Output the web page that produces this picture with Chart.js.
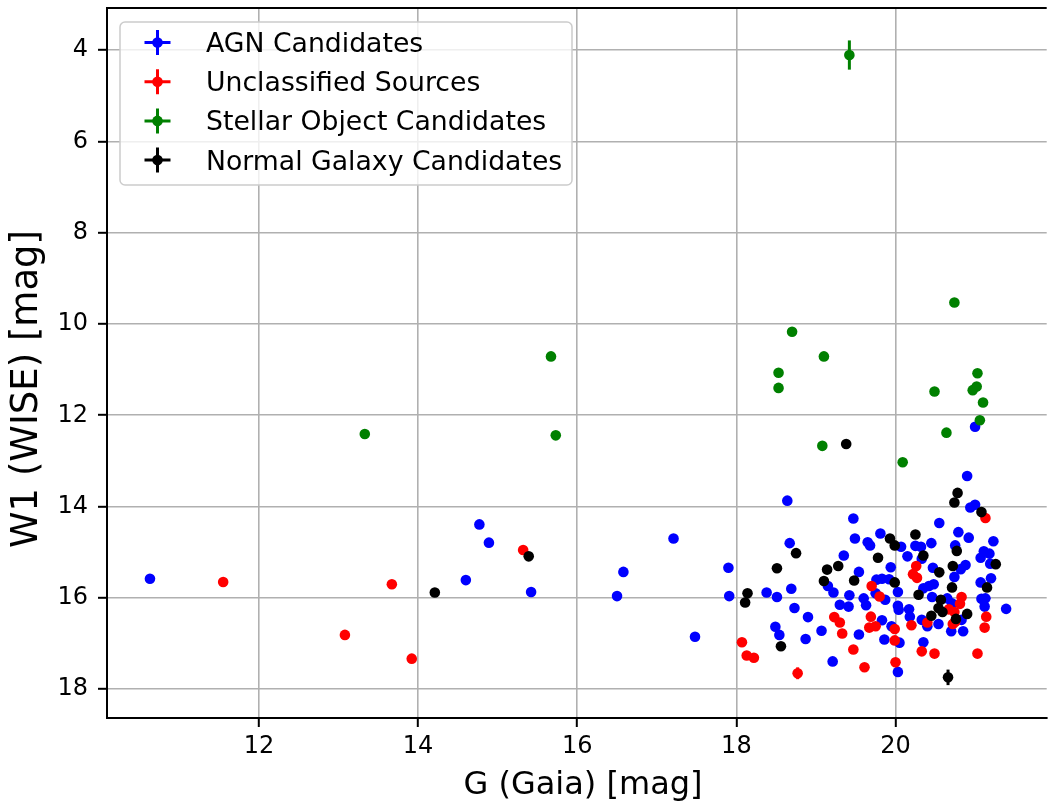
<!DOCTYPE html>
<html>
<head>
<meta charset="utf-8">
<title>G (Gaia) vs W1 (WISE)</title>
<script src="https://cdn.jsdelivr.net/npm/chart.js@4.4.0/dist/chart.umd.min.js"></script>
<style>
    html, body { margin: 0; padding: 0; background: #fff; }
    #wrap { width: 1052px; height: 808px; position: relative; }
</style>
</head>
<body>
<div id="wrap"><canvas id="chart"></canvas></div>
<script>
// ── Data ───────────────────────────────────────────────
// each point: [G (Gaia) mag, W1 (WISE) mag, optional W1 error]

const seriesNames = ['AGN Candidates', 'Unclassified Sources', 'Stellar Object Candidates', 'Normal Galaxy Candidates'];
const seriesColors = ['#0000ff', '#ff0000', '#008000', '#000000'];

const agnPoints = [
    [10.63, 15.58], [14.60, 15.61], [14.77, 14.39], [14.89, 14.79], [15.42, 15.87], [16.50, 15.96],
    [16.58, 15.43], [17.21, 14.70], [17.48, 16.85], [17.90, 15.34], [17.91, 15.96], [18.38, 15.88],
    [18.51, 15.98], [18.49, 16.63], [18.54, 16.81], [18.64, 13.87], [18.67, 14.80], [18.69, 15.80],
    [18.73, 16.22], [18.90, 16.42], [18.87, 16.90], [19.07, 16.72], [19.15, 15.74], [19.22, 15.88],
    [19.21, 17.39], [19.30, 16.15], [19.35, 15.07], [19.41, 16.19], [19.42, 15.94], [19.47, 14.26],
    [19.49, 14.70], [19.54, 15.43], [19.54, 16.80], [19.60, 16.01], [19.63, 16.16], [19.65, 14.78],
    [19.68, 14.85], [19.75, 15.90], [19.76, 15.60], [19.81, 14.59], [19.83, 15.58], [19.83, 16.49],
    [19.86, 16.91], [19.87, 16.04], [19.92, 15.59], [19.94, 15.33], [19.95, 16.62], [20.03, 15.87],
    [20.03, 16.17], [20.04, 16.26], [20.05, 16.98], [20.03, 17.62], [20.07, 14.88], [20.15, 15.09],
    [20.17, 16.25], [20.18, 16.41], [20.25, 14.86], [20.32, 14.88], [20.33, 15.14], [20.33, 16.48],
    [20.35, 16.97], [20.35, 15.79], [20.40, 16.62], [20.42, 15.74], [20.45, 14.80], [20.46, 15.98],
    [20.47, 15.34], [20.48, 15.70], [20.54, 16.57], [20.55, 14.36], [20.65, 16.01], [20.70, 16.73],
    [20.71, 16.12], [20.74, 15.54], [20.75, 14.85], [20.79, 14.56], [20.82, 15.37], [20.83, 16.48],
    [20.85, 16.73], [20.88, 15.28], [20.90, 13.33], [20.92, 14.68], [20.94, 14.02], [21.00, 13.96],
    [21.00, 12.25], [21.07, 15.12], [21.07, 15.66], [21.08, 16.02], [21.11, 14.98], [21.12, 16.19],
    [21.13, 16.01], [21.18, 15.03], [21.19, 15.25], [21.20, 15.57], [21.23, 14.76], [21.39, 16.24]
];

const unclassifiedPoints = [
    [11.55, 15.65], [13.08, 16.81], [13.67, 15.70], [13.92, 17.33], [15.32, 14.95], [18.07, 16.97],
    [18.13, 17.26], [18.22, 17.31], [18.77, 17.65, 0.13], [19.23, 16.42], [19.30, 16.54], [19.33, 16.78],
    [19.47, 17.13], [19.61, 17.52], [19.67, 16.65], [19.69, 16.41], [19.70, 15.74], [19.75, 16.62],
    [19.80, 15.97], [19.99, 16.68], [19.99, 16.93], [20.00, 17.41], [20.20, 16.60], [20.22, 15.48],
    [20.26, 15.30], [20.27, 15.56], [20.33, 17.17], [20.40, 16.54], [20.49, 17.22], [20.67, 16.25],
    [20.72, 16.57], [20.75, 16.52], [20.74, 16.31], [20.81, 16.13], [20.83, 15.98], [21.03, 17.22],
    [21.12, 16.65], [21.13, 14.25], [21.14, 16.41]
];

const stellarPoints = [
    [13.33, 12.41], [15.67, 10.71], [15.73, 12.44], [18.53, 11.07], [18.53, 11.40], [18.70, 10.17],
    [19.10, 10.71], [19.08, 12.67], [19.42, 4.11, 0.32], [20.09, 13.03], [20.49, 11.48], [20.64, 12.38],
    [20.74, 9.53], [20.97, 11.45], [21.02, 11.37], [21.03, 11.08], [21.10, 11.72], [21.06, 12.11]
];

const normalPoints = [
    [14.21, 15.88], [15.39, 15.09], [18.11, 16.10], [18.14, 15.90], [18.51, 15.35], [18.56, 17.06],
    [18.75, 15.02], [19.10, 15.63], [19.14, 15.38], [19.28, 15.30], [19.38, 12.63], [19.48, 15.62],
    [19.78, 15.12], [19.93, 14.70], [19.99, 14.85], [19.99, 15.66], [20.25, 14.61], [20.29, 15.93],
    [20.35, 15.07], [20.45, 16.39], [20.54, 16.22], [20.55, 15.44], [20.57, 16.04], [20.59, 16.31],
    [20.66, 17.74, 0.17], [20.71, 15.77], [20.72, 15.30], [20.74, 13.91], [20.76, 16.46], [20.77, 14.97],
    [20.78, 13.70], [20.90, 16.35], [21.08, 14.12], [21.15, 15.77], [21.26, 15.26]
];

const xTicks = [12, 14, 16, 18, 20];
const yTicks = [4, 6, 8, 10, 12, 14, 16, 18];
const xLimits = [10.09, 21.9];
const yLimits = [3.08, 18.63];

const xTitle = 'G (Gaia) [mag]';
const yTitle = 'W1 (WISE) [mag]';

const FONT = "'DejaVu Sans', 'Liberation Sans', sans-serif";

// ── Plugins ──────────────────────────

// vertical error bars, drawn under each dataset's markers
const errorBars = {
    id: 'errorBars',
    beforeDatasetDraw(chart, args) {
        const ds = chart.data.datasets[args.index];
        const xs = chart.scales.x, ys = chart.scales.y;
        const ctx = chart.ctx;
        ctx.save();
        ctx.strokeStyle = ds.backgroundColor;
        ctx.lineWidth = 3;
        ds.data.forEach(p => {
            if (!p.err) return;
            const px = xs.getPixelForValue(p.x);
            ctx.beginPath();
            ctx.moveTo(px, ys.getPixelForValue(p.y - p.err));
            ctx.lineTo(px, ys.getPixelForValue(p.y + p.err));
            ctx.stroke();
        });
        ctx.restore();
    }
};

// top spine (right one falls off the picture) + axis titles
const frame = {
    id: 'frame',
    afterDraw(chart) {
        const { ctx, chartArea: a } = chart;
        ctx.save();
        ctx.strokeStyle = '#000';
        ctx.lineWidth = 2;
        ctx.beginPath();
        ctx.moveTo(a.left, a.top);
        ctx.lineTo(a.right, a.top);
        ctx.stroke();

        ctx.fillStyle = '#000';
        ctx.textAlign = 'center';
        ctx.textBaseline = 'middle';
        ctx.font = '32px ' + FONT;
        ctx.fillText(xTitle, 583, 786);

        ctx.translate(27, 389);
        ctx.rotate(-Math.PI / 2);
        ctx.font = '37px ' + FONT;
        ctx.fillText(yTitle, 0, 0);
        ctx.restore();
    }
};

// matplotlib style legend box with errorbar markers
const boxLegend = {
    id: 'boxLegend',
    afterDraw(chart) {
        const { ctx, chartArea: a } = chart;
        const left = a.left + 13, top = a.top + 14, w = 452, h = 163, r = 5;
        ctx.save();
        ctx.beginPath();
        ctx.roundRect(left, top, w, h, r);
        ctx.fillStyle = 'rgba(255,255,255,0.8)';
        ctx.fill();
        ctx.strokeStyle = '#cccccc';
        ctx.lineWidth = 1.5;
        ctx.stroke();

        ctx.font = '26.7px ' + FONT;
        ctx.textBaseline = 'middle';
        chart.data.datasets.forEach((ds, i) => {
            const cy = top + 20.5 + i * 39.2;
            const cx = left + 37.5;
            ctx.strokeStyle = ds.backgroundColor;
            ctx.fillStyle = ds.backgroundColor;
            ctx.lineWidth = 3;
            ctx.beginPath();
            ctx.moveTo(cx - 13, cy); ctx.lineTo(cx + 13, cy);
            ctx.moveTo(cx, cy - 12.5); ctx.lineTo(cx, cy + 12.5);
            ctx.stroke();
            ctx.beginPath();
            ctx.arc(cx, cy, 5.3, 0, Math.PI * 2);
            ctx.fill();
            ctx.fillStyle = '#000';
            ctx.fillText(ds.label, left + 86, cy + 2.5);
        });
        ctx.restore();
    }
};

// ── Chart ──────────────────────────

function toPoints(list) {
    return list.map(p => ({ x: p[0], y: p[1], err: p[2] || 0 }));
}

const allSeries = [agnPoints, unclassifiedPoints, stellarPoints, normalPoints];

const datasets = allSeries.map((pts, i) => ({
    label: seriesNames[i],
    data: toPoints(pts),
    backgroundColor: seriesColors[i],
    borderWidth: 0,
    pointRadius: 5.3,
    pointHoverRadius: 5.3,
    showLine: false,
    order: allSeries.length - 1 - i   // later series drawn on top, like matplotlib
}));

const axisGrid = {
    color: '#b0b0b0',
    lineWidth: 1.6,
    tickColor: '#000',
    tickLength: 9,
    tickWidth: 2
};

new Chart(document.getElementById('chart').getContext('2d'), {
    type: 'scatter',
    data: { datasets },
    options: {
        responsive: true,
        maintainAspectRatio: false,
        animation: false,
        events: [],
        layout: { padding: { left: 0, top: 8, right: 0, bottom: 0 } },
        plugins: {
            legend: { display: false },
            tooltip: { enabled: false }
        },
        scales: {
            x: {
                type: 'linear',
                min: xLimits[0],
                max: xLimits[1],
                afterBuildTicks: s => { s.ticks = xTicks.map(v => ({ value: v })); },
                afterFit: s => { s.height = 90; s.paddingLeft = 0; s.paddingRight = 0; },
                grid: axisGrid,
                border: { display: true, color: '#000', width: 2 },
                ticks: { color: '#000', font: { family: FONT, size: 24 }, padding: 5, maxRotation: 0 }
            },
            y: {
                type: 'linear',
                reverse: true,
                min: yLimits[0],
                max: yLimits[1],
                afterBuildTicks: s => { s.ticks = yTicks.map(v => ({ value: v })); },
                afterFit: s => { s.width = 107; s.paddingTop = 0; s.paddingBottom = 0; },
                grid: axisGrid,
                border: { display: true, color: '#000', width: 2 },
                ticks: { color: '#000', font: { family: FONT, size: 24 }, padding: 10 }
            }
        }
    },
    plugins: [errorBars, frame, boxLegend]
});
</script>
</body>
</html>
